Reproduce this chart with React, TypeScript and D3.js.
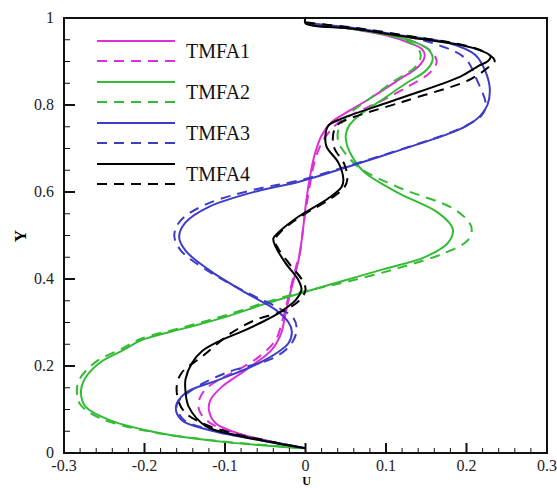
import * as d3 from "d3";

type Pt = [number, number]; // [U, Y]

const xTicks = [-0.3, -0.2, -0.1, 0, 0.1, 0.2, 0.3];
const yTicks = [0, 0.2, 0.4, 0.6, 0.8, 1];
const legendNames = ["TMFA1", "TMFA2", "TMFA3", "TMFA4"];
const colors = ["#dc2fd8", "#33bb33", "#3c3cc8", "#000000"];

const tmfa1Solid: Pt[] = [
  [0, 0.988], [0.05, 0.977], [0.1, 0.96], [0.13, 0.942], [0.145, 0.928], [0.148, 0.912],
  [0.14, 0.888], [0.115, 0.857], [0.08, 0.815], [0.05, 0.782], [0.032, 0.76], [0.02, 0.73],
  [0.012, 0.69], [0.006, 0.64], [0.001, 0.58], [-0.004, 0.5], [-0.008, 0.45], [-0.013, 0.41],
  [-0.02, 0.36], [-0.026, 0.31], [-0.03, 0.276], [-0.042, 0.237], [-0.074, 0.191],
  [-0.104, 0.152], [-0.118, 0.122], [-0.12, 0.099], [-0.112, 0.069], [-0.085, 0.046],
  [-0.045, 0.027], [0, 0.011],
];
const tmfa1Dashed: Pt[] = [
  [0, 0.988], [0.05, 0.977], [0.1, 0.962], [0.135, 0.945], [0.155, 0.925], [0.163, 0.9],
  [0.155, 0.875], [0.13, 0.845], [0.095, 0.81], [0.06, 0.78], [0.04, 0.758], [0.028, 0.735],
  [0.018, 0.705], [0.01, 0.66], [0.004, 0.6], [-0.002, 0.53], [-0.007, 0.46], [-0.013, 0.42],
  [-0.021, 0.36], [-0.028, 0.31], [-0.037, 0.26], [-0.058, 0.221], [-0.085, 0.19],
  [-0.104, 0.172], [-0.125, 0.145], [-0.133, 0.115], [-0.13, 0.09], [-0.115, 0.065],
  [-0.085, 0.045], [-0.045, 0.027], [0, 0.011],
];
const tmfa2Solid: Pt[] = [
  [0, 0.988], [0.05, 0.977], [0.1, 0.962], [0.135, 0.945], [0.153, 0.927], [0.158, 0.905],
  [0.15, 0.88], [0.125, 0.85], [0.095, 0.812], [0.068, 0.778], [0.054, 0.752], [0.05, 0.73],
  [0.052, 0.705], [0.06, 0.675], [0.074, 0.644], [0.115, 0.598], [0.165, 0.552], [0.183, 0.515],
  [0.177, 0.483], [0.149, 0.451], [0.094, 0.421], [0.045, 0.395], [-0.005, 0.368],
  [-0.05, 0.343], [-0.099, 0.313], [-0.15, 0.287], [-0.203, 0.26], [-0.226, 0.237],
  [-0.256, 0.207], [-0.275, 0.168], [-0.279, 0.138], [-0.273, 0.106], [-0.244, 0.076],
  [-0.182, 0.046], [-0.099, 0.025], [0, 0.011],
];
const tmfa2Dashed: Pt[] = [
  [0, 0.988], [0.05, 0.978], [0.095, 0.965], [0.125, 0.948], [0.14, 0.93], [0.143, 0.91],
  [0.135, 0.885], [0.11, 0.855], [0.08, 0.815], [0.056, 0.782], [0.044, 0.757], [0.04, 0.735],
  [0.041, 0.715], [0.045, 0.7], [0.066, 0.657], [0.115, 0.611], [0.186, 0.559], [0.206, 0.52],
  [0.202, 0.49], [0.173, 0.46], [0.115, 0.425], [0.05, 0.393], [-0.005, 0.37], [-0.05, 0.346],
  [-0.1, 0.316], [-0.152, 0.289], [-0.205, 0.262], [-0.228, 0.24], [-0.26, 0.21],
  [-0.28, 0.172], [-0.284, 0.145], [-0.28, 0.112], [-0.255, 0.08], [-0.19, 0.048],
  [-0.105, 0.027], [0, 0.011],
];
const tmfa3Solid: Pt[] = [
  [0, 0.988], [0.06, 0.977], [0.115, 0.961], [0.177, 0.943], [0.211, 0.915], [0.224, 0.875],
  [0.229, 0.835], [0.226, 0.8], [0.217, 0.775], [0.2, 0.752], [0.175, 0.732], [0.14, 0.71],
  [0.09, 0.68], [0.053, 0.658], [-0.009, 0.623], [-0.058, 0.603], [-0.12, 0.566],
  [-0.149, 0.53], [-0.157, 0.497], [-0.149, 0.465], [-0.12, 0.421], [-0.074, 0.368],
  [-0.037, 0.329], [-0.021, 0.3], [-0.017, 0.28], [-0.021, 0.253], [-0.05, 0.214],
  [-0.108, 0.168], [-0.149, 0.138], [-0.161, 0.106], [-0.154, 0.076], [-0.12, 0.053],
  [-0.058, 0.03], [0, 0.011],
];
const tmfa3Dashed: Pt[] = [
  [0, 0.988], [0.06, 0.978], [0.115, 0.962], [0.165, 0.938], [0.198, 0.908], [0.214, 0.853],
  [0.224, 0.8], [0.219, 0.777], [0.2, 0.753], [0.175, 0.733], [0.14, 0.711], [0.09, 0.681],
  [0.053, 0.66], [-0.009, 0.626], [-0.06, 0.607], [-0.123, 0.572], [-0.155, 0.535],
  [-0.163, 0.5], [-0.155, 0.466], [-0.125, 0.423], [-0.074, 0.37], [-0.035, 0.335],
  [-0.015, 0.31], [-0.011, 0.283], [-0.017, 0.253], [-0.037, 0.221], [-0.099, 0.184],
  [-0.141, 0.145], [-0.16, 0.11], [-0.151, 0.076], [-0.12, 0.055], [-0.06, 0.032], [0, 0.011],
];
const tmfa4Solid: Pt[] = [
  [0, 1.0], [0, 0.988], [0.06, 0.975], [0.13, 0.955], [0.193, 0.938], [0.218, 0.925],
  [0.23, 0.912], [0.226, 0.9], [0.215, 0.89], [0.193, 0.866], [0.112, 0.812], [0.04, 0.765],
  [0.028, 0.752], [0.025, 0.735], [0.026, 0.705], [0.041, 0.667], [0.047, 0.63],
  [0.045, 0.612], [0.028, 0.585], [-0.009, 0.543], [-0.033, 0.508], [-0.04, 0.493],
  [-0.037, 0.474], [-0.025, 0.437], [-0.009, 0.398], [-0.005, 0.376], [-0.012, 0.352],
  [-0.033, 0.322], [-0.055, 0.3], [-0.083, 0.276], [-0.104, 0.26], [-0.128, 0.235],
  [-0.141, 0.207], [-0.149, 0.17], [-0.149, 0.14], [-0.145, 0.106], [-0.124, 0.062],
  [-0.079, 0.038], [0, 0.011],
];
const tmfa4Dashed: Pt[] = [
  [0, 0.99], [0.06, 0.977], [0.13, 0.958], [0.19, 0.94], [0.222, 0.922], [0.235, 0.902],
  [0.228, 0.888], [0.214, 0.869], [0.198, 0.853], [0.12, 0.807], [0.045, 0.761],
  [0.037, 0.748], [0.034, 0.725], [0.036, 0.7], [0.048, 0.665], [0.052, 0.63], [0.048, 0.61],
  [0.03, 0.583], [-0.005, 0.545], [-0.03, 0.51], [-0.038, 0.49], [-0.034, 0.47],
  [-0.02, 0.435], [-0.004, 0.397], [0, 0.375], [-0.008, 0.35], [-0.03, 0.325],
  [-0.062, 0.306], [-0.092, 0.276], [-0.129, 0.221], [-0.154, 0.184], [-0.16, 0.152],
  [-0.157, 0.115], [-0.149, 0.092], [-0.129, 0.069], [-0.092, 0.046], [0, 0.011],
];

const series = [
  { data: tmfa1Solid, color: 0, dashed: false },
  { data: tmfa1Dashed, color: 0, dashed: true },
  { data: tmfa2Solid, color: 1, dashed: false },
  { data: tmfa2Dashed, color: 1, dashed: true },
  { data: tmfa3Solid, color: 2, dashed: false },
  { data: tmfa3Dashed, color: 2, dashed: true },
  { data: tmfa4Solid, color: 3, dashed: false },
  { data: tmfa4Dashed, color: 3, dashed: true },
];

const width = 557;
const height = 488;
const font = "'Liberation Serif', 'Times New Roman', serif";
const dash = "10,7";

export default function App() {
  const x = d3.scaleLinear().domain([-0.3, 0.3]).range([64, 547]);
  const y = d3.scaleLinear().domain([0, 1]).range([453, 18]);
  const line = d3
    .line<Pt>()
    .x((d) => x(d[0]))
    .y((d) => y(d[1]))
    .curve(d3.curveCatmullRom.alpha(0.5));

  const xMinor = d3.range(-0.28, 0.3, 0.02).filter((v) => Math.abs(Math.round(v * 10) - v * 10) > 0.01);
  const yMinor = d3.range(0.05, 1, 0.05).filter((v) => Math.abs(Math.round(v * 5) - v * 5) > 0.01);

  return (
    <svg width={width} height={height} style={{ position: "absolute", left: 0, top: 0, background: "#fff" }}>
      {/* curves */}
      <g fill="none" strokeWidth={2}>
        {series.map((s, i) => (
          <path
            key={i}
            d={line(s.data) || ""}
            stroke={colors[s.color]}
            strokeDasharray={s.dashed ? dash : undefined}
          />
        ))}
      </g>

      {/* frame */}
      <rect x={x(-0.3)} y={y(1)} width={x(0.3) - x(-0.3)} height={y(0) - y(1)} fill="none" stroke="#111" strokeWidth={2} />

      {/* ticks */}
      <g stroke="#111" strokeWidth={1}>
        {xTicks.map((t) => (
          <line key={"xm" + t} x1={x(t)} x2={x(t)} y1={y(0)} y2={y(0) - 10} strokeWidth={2} />
        ))}
        {xMinor.map((t, i) => (
          <line key={"xn" + i} x1={x(t)} x2={x(t)} y1={y(0)} y2={y(0) - 5} />
        ))}
        {yTicks.map((t) => (
          <line key={"ym" + t} x1={x(-0.3)} x2={x(-0.3) + 11} y1={y(t)} y2={y(t)} strokeWidth={2} />
        ))}
        {yMinor.map((t, i) => (
          <line key={"yn" + i} x1={x(-0.3)} x2={x(-0.3) + 6} y1={y(t)} y2={y(t)} />
        ))}
      </g>

      {/* tick labels */}
      <g fontFamily={font} fontSize={16} fill="#222">
        {xTicks.map((t) => (
          <text key={"xl" + t} x={x(t)} y={471} textAnchor="middle">
            {String(t)}
          </text>
        ))}
        {yTicks.map((t) => (
          <text key={"yl" + t} x={54} y={y(t) + 5} textAnchor="end">
            {String(t)}
          </text>
        ))}
      </g>

      {/* axis titles */}
      <text x={x(0) + 1} y={485} textAnchor="middle" fontFamily={font} fontSize={12} fontWeight="bold">
        U
      </text>
      <text
        transform="translate(26,236) rotate(-90)"
        textAnchor="middle"
        fontFamily={font}
        fontSize={17}
        fontWeight="bold"
      >
        Y
      </text>

      {/* legend */}
      <g>
        {legendNames.map((name, i) => {
          const ly = 41 + i * 41;
          return (
            <g key={name}>
              <line x1={97} x2={175} y1={ly} y2={ly} stroke={colors[i]} strokeWidth={2} />
              <line x1={97} x2={175} y1={ly + 20} y2={ly + 20} stroke={colors[i]} strokeWidth={2} strokeDasharray={dash} />
              <text x={186} y={ly + 17} fontFamily={font} fontSize={20} fill="#111">
                {name}
              </text>
            </g>
          );
        })}
      </g>
    </svg>
  );
}
